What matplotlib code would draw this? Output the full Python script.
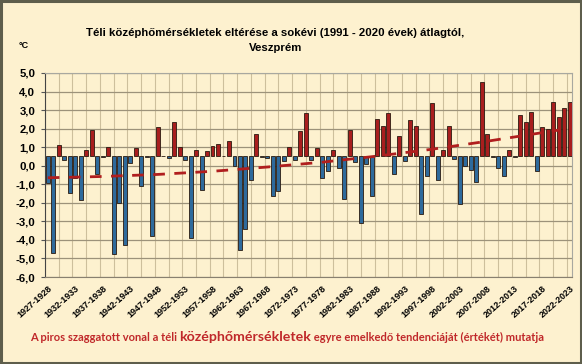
import matplotlib
matplotlib.use("Agg")
import matplotlib.pyplot as plt
from matplotlib.patches import Rectangle
import numpy as np

# winters 1927-1928 ... 2022-2023
start_years = list(range(1927, 2023))
winters = [f"{y}-{y + 1}" for y in start_years]

# bar ends (bars are drawn from the 0.5 line)
values = [
    -0.94, -4.70, 1.13, 0.32, -1.47, -0.67, -1.87, 0.86, 1.90, -0.45,
    0.45, 1.00, -4.75, -2.00, -4.26, 0.14, 0.97, -1.08, 0.48, -3.81,
    2.09, 0.53, 0.41, 2.37, 1.00, 0.29, -3.88, 0.86, -1.30, 0.81,
    1.08, 1.17, 0.55, 1.35, 0.00, -4.57, -3.42, -0.76, 1.73, 0.48,
    0.42, -1.65, -1.38, 0.23, 1.00, 0.32, 1.85, 2.84, 0.29, 0.97,
    -0.67, -0.27, 0.83, -0.13, -1.80, 1.94, 0.22, -3.10, 0.10, -1.62,
    2.52, 2.16, 2.84, -0.45, 1.62, 0.23, 2.48, 2.12, -2.60, -0.58,
    3.38, -0.76, 0.83, 2.12, 0.38, -2.05, 0.00, -0.25, -0.90, 4.50,
    1.73, 0.48, -0.14, -0.58, 0.83, 0.48, 2.75, 2.36, 2.90, -0.30,
    2.07, 1.98, 3.44, 2.60, 3.11, 3.45,
]
baseline = 0.5

# red dashed trend line, read at a few winters
trend_idx = [0, 10, 20, 30, 40, 50, 60, 70, 80, 93]
trend_val = [-0.65, -0.58, -0.47, -0.30, -0.07, 0.19, 0.52, 0.89, 1.32, 1.92]

tick_idx = list(range(0, 96, 5))

bg = "#FDF1CF"
red = "#A81E1E"
blue = "#2E6A9C"
grid_col = "#CDBF9C"

fig = plt.figure(figsize=(5.82, 3.64), dpi=100, facecolor=bg)
ax = fig.add_axes([0.0773, 0.239, 0.906, 0.5605])
ax.set_facecolor(bg)

x = np.arange(len(values))
vals = np.array(values)
colors = [red if v > baseline else blue for v in vals]
ax.bar(x, vals - baseline, bottom=baseline, width=0.72, color=colors,
       edgecolor="#2a1a10", linewidth=0.6, zorder=3)

ax.plot(trend_idx, trend_val, color="#B01E1E", lw=2.0, dashes=(4.2, 3.4),
        zorder=4, solid_capstyle="butt")

ax.set_xlim(-0.5, 95.5)
ax.set_ylim(-6, 5)
ax.set_yticks(np.arange(-6, 6, 1))
ax.set_yticklabels([f"{v:.1f}".replace(".", ",") for v in np.arange(-6, 6, 1)],
                   fontsize=8.2, fontweight="bold", family="Liberation Sans")
ax.set_xticks(tick_idx)
ax.set_xticklabels([winters[i] for i in tick_idx], rotation=42, ha="right",
                   rotation_mode="anchor", fontsize=6.5, fontweight="bold",
                   family="Liberation Sans")
ax.set_xticks(np.arange(-0.5, 95.6, 2.5), minor=True)
ax.tick_params(axis="x", which="both", length=0, pad=5)
ax.tick_params(axis="y", length=3, width=0.8, color="#555555", pad=4)

ax.grid(axis="y", color="#9C927A", lw=0.9, zorder=0)
ax.grid(axis="x", which="minor", color=grid_col, lw=0.8, zorder=0)
ax.set_axisbelow(True)

for side in ["top", "right"]:
    ax.spines[side].set_color("#A8A8A0")
    ax.spines[side].set_linewidth(0.8)
ax.spines["left"].set_color("#444444")
ax.spines["bottom"].set_color("#888070")

fig.text(0.473, 0.909, "Téli középhőmérsékletek eltérése a sokévi (1991 - 2020 évek) átlagtól,",
         ha="center", va="center", fontsize=8.2, fontweight="bold", family="Liberation Sans")
fig.text(0.473, 0.868, "Veszprém", ha="center", va="center", fontsize=8.2,
         fontweight="bold", family="Liberation Sans")
fig.text(0.040, 0.876, "°C", ha="center", va="center", fontsize=6.5,
         fontweight="bold", family="Liberation Sans")

# bottom note, middle word larger
note_col = "#C0282A"
parts = [("A piros szaggatott vonal a téli ", 8.0),
         ("középhőmérsékletek", 10.2),
         (" egyre emelkedő tendenciáját (értékét) mutatja", 8.0)]
fig.canvas.draw()
renderer = fig.canvas.get_renderer()
texts = []
for s, size in parts:
    t = fig.text(0, 0.062, s, ha="left", va="baseline", fontsize=size,
                 fontweight="bold", family="Lato", color=note_col)
    texts.append(t)
widths = [t.get_window_extent(renderer).width for t in texts]
W = fig.bbox.width
xpos = (287 - sum(widths) / 2)
for t, w in zip(texts, widths):
    t.set_x(xpos / W)
    xpos += w

fig.patches.append(Rectangle((0.002, 0.003), 0.996, 0.994, transform=fig.transFigure,
                             fill=False, edgecolor="#5E5E4C", linewidth=2.2))

fig.savefig("out.png", dpi=100, facecolor=bg)
